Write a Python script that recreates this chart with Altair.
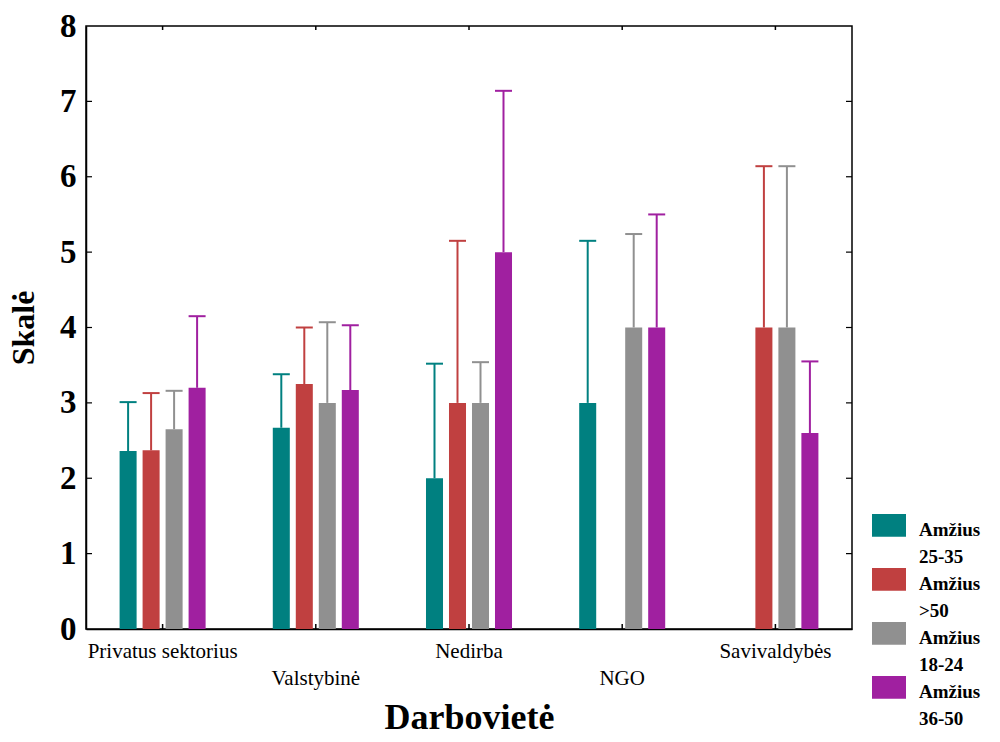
import altair as alt
import pandas as pd

categories = ["Privatus sektorius", "Valstybinė", "Nedirba", "NGO", "Savivaldybės"]
groups = ["25-35", ">50", "18-24", "36-50"]
colors = ["#008080", "#C04040", "#909090", "#A020A0"]

mean_25_35 = [2.36, 2.67, 2.0, 3.0, None]
mean_gt50 = [2.37, 3.25, 3.0, None, 4.0]
mean_18_24 = [2.65, 3.0, 3.0, 4.0, 4.0]
mean_36_50 = [3.2, 3.17, 5.0, 4.0, 2.6]

upper_25_35 = [3.01, 3.38, 3.52, 5.15, None]
upper_gt50 = [3.13, 4.0, 5.15, None, 6.14]
upper_18_24 = [3.16, 4.07, 3.54, 5.24, 6.14]
upper_36_50 = [4.15, 4.03, 7.14, 5.5, 3.55]

y_ticks = [0, 1, 2, 3, 4, 5, 6, 7, 8]

means = [mean_25_35, mean_gt50, mean_18_24, mean_36_50]
uppers = [upper_25_35, upper_gt50, upper_18_24, upper_36_50]
rows = []
for g, m_list, u_list in zip(groups, means, uppers):
    for c, m, u in zip(categories, m_list, u_list):
        if m is not None:
            rows.append({"cat": c, "grp": g, "mean": m, "upper": u})
df = pd.DataFrame(rows)

W, H = 766, 603
BAND = W / len(categories)
SERIF = "Liberation Serif"

xenc = alt.X("cat:N", sort=categories, scale=alt.Scale(domain=categories, paddingInner=0, paddingOuter=0),
             axis=alt.Axis(title="Darbovietė", labelAngle=0, ticks=False, labelFont=SERIF, labelFontSize=21,
                           labelColor="black", labelPadding=11, labelLineHeight=27,
                           labelExpr="indexof(['Valstybinė','NGO'], datum.value) >= 0 ? ['', datum.label] : datum.label",
                           titleFont=SERIF, titleFontSize=36, titleFontWeight="bold", titleColor="black",
                           titleY=99, titleBaseline="alphabetic",
                           domainColor="black", domainWidth=1.5))
yscale = alt.Scale(domain=[0, 8], nice=False)
yenc = alt.Y("mean:Q", scale=yscale,
             axis=alt.Axis(title="Skalė", values=y_ticks, format="d", ticks=False, grid=False, labelFont=SERIF,
                           labelFontSize=33, labelFontWeight="bold", labelColor="black", labelPadding=10,
                           titleFont=SERIF, titleFontSize=32, titleFontWeight="bold", titleColor="black",
                           titleX=-53, titleBaseline="alphabetic",
                           domainColor="black", domainWidth=1.5))
offset = alt.XOffset("grp:N", sort=groups,
                     scale=alt.Scale(domain=groups, range=[BAND / 2 - 46, BAND / 2 + 46],
                                     paddingInner=0.26, paddingOuter=0.13))
color = alt.Color("grp:N", sort=groups, scale=alt.Scale(domain=groups, range=colors),
                  legend=alt.Legend(title=None, orient="none", legendX=786, legendY=493,
                                    symbolType="M-1,-1.3L1,-1.3L1,0.05L-1,0.05Z", symbolSize=1156,
                                    symbolStrokeWidth=0, symbolOpacity=1,
                                    labelFont=SERIF, labelFontSize=19, labelFontWeight="bold",
                                    labelColor="black", labelExpr="['Amžius', datum.label]",
                                    labelBaseline="alphabetic", rowPadding=0,
                                    labelOffset=13, labelLimit=200))

base = alt.Chart(df)
bars = base.mark_bar(opacity=1).encode(x=xenc, y=yenc, xOffset=offset, color=color)
rules = base.mark_rule(strokeWidth=2).encode(
    x=alt.X("cat:N", sort=categories), xOffset=offset, y="mean:Q", y2="upper:Q", color=color)
caps = base.mark_tick(thickness=2, size=17, opacity=1).encode(
    x=alt.X("cat:N", sort=categories), xOffset=offset, y=alt.Y("upper:Q"), color=color)

tick_df = pd.DataFrame({"v": y_ticks[1:-1]})
left_ticks = alt.Chart(tick_df).mark_rule(color="black", strokeWidth=1.2).encode(
    y=alt.Y("v:Q", scale=yscale), x=alt.value(0), x2=alt.value(6))
right_ticks = alt.Chart(tick_df).mark_rule(color="black", strokeWidth=1.2).encode(
    y=alt.Y("v:Q", scale=yscale), x=alt.value(W - 6), x2=alt.value(W))
cat_df = pd.DataFrame({"c": categories})
bottom_ticks = alt.Chart(cat_df).mark_rule(color="black", strokeWidth=1.5).encode(
    x=alt.X("c:N", sort=categories), y=alt.value(H - 5), y2=alt.value(H))
top_ticks = alt.Chart(cat_df).mark_rule(color="black", strokeWidth=1.5).encode(
    x=alt.X("c:N", sort=categories), y=alt.value(0), y2=alt.value(4))

chart = alt.layer(bars, rules, caps, left_ticks, right_ticks, bottom_ticks, top_ticks).resolve_scale(
    x="shared").properties(
    width=W, height=H,
    autosize=alt.AutoSizeParams(type="none"),
    padding={"left": 78, "top": 18, "right": 140, "bottom": 105},
    background="white",
).configure(style={"guide-label": {"lineHeight": 27}}).configure_view(stroke="black", strokeWidth=1.5)

chart.save("out.html", embed_options={"renderer": "svg", "actions": False})
